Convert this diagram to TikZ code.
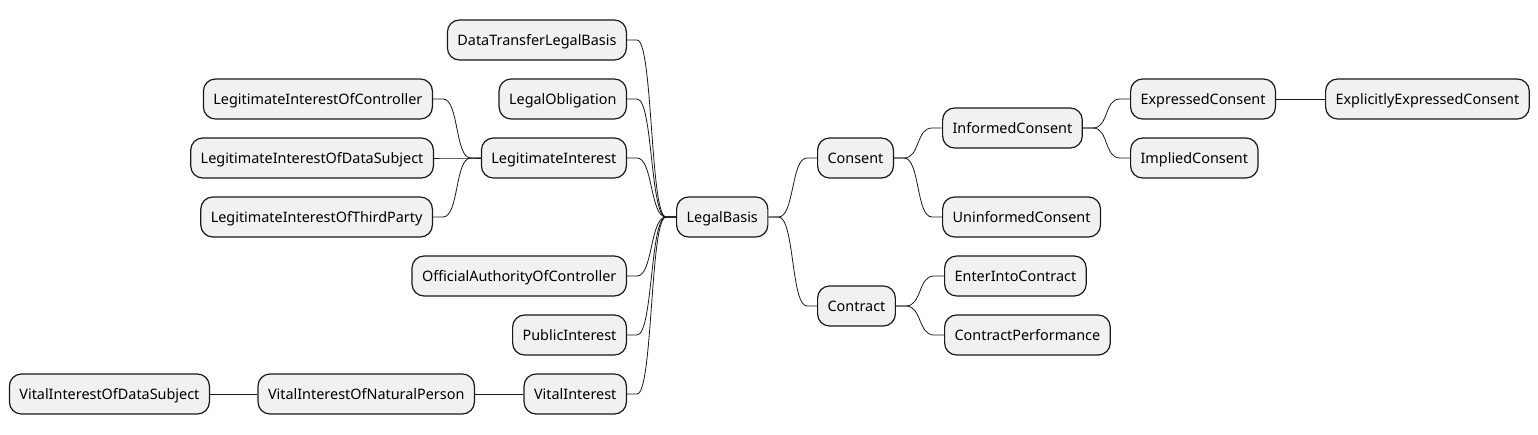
\documentclass[tikz,border=0pt]{standalone}
\usepackage{fontspec}
\setmainfont{Noto Sans}
\usetikzlibrary{positioning, calc}
\definecolor{boxfill}{HTML}{F1F1F1}
\definecolor{boxline}{HTML}{181818}

\begin{document}
\begin{tikzpicture}[
                x=1pt, y=-1pt,
                topic/.style={draw=boxline, fill=boxfill, line width=1.2pt, rounded corners=12pt,
                    minimum height=40pt, inner xsep=10pt, text height=12pt, text depth=1.5pt,
                    font=\fontsize{14.4}{16}\selectfont},
                branch/.style={draw=boxline, line width=0.8pt},
                rconn/.style={to path={-- ++(10,0) .. controls +(16,0) and +(-16,0) .. ($(\tikztotarget)+(-10,0)$) -- (\tikztotarget)}},
                lconn/.style={to path={-- ++(-10,0) .. controls +(-16,0) and +(16,0) .. ($(\tikztotarget)+(10,0)$) -- (\tikztotarget)}}
            ]
                \useasboundingbox (0,0) rectangle (1538,434);

                % Root node
                \node[topic, anchor=west] (legalbasis) at (676,217) {LegalBasis};

                % Right branch
                \node[topic, anchor=west] (consent) at (817,158) {Consent};
                \node[topic, anchor=west] (contract) at (817,306) {Contract};
                \node[topic, anchor=west] (informed) at (942,128) {InformedConsent};
                \node[topic, anchor=west] (uninformed) at (942,217) {UninformedConsent};
                \node[topic, anchor=west] (expressed) at (1130,99) {ExpressedConsent};
                \node[topic, anchor=west] (implied) at (1130,158) {ImpliedConsent};
                \node[topic, anchor=west] (explicit) at (1325,99) {ExplicitlyExpressedConsent};
                \node[topic, anchor=west] (enter) at (944,276) {EnterIntoContract};
                \node[topic, anchor=west] (performance) at (944,335) {ContractPerformance};

                % Left branch
                \node[topic, anchor=east] (transfer) at (627,40) {DataTransferLegalBasis};
                \node[topic, anchor=east] (obligation) at (627,99) {LegalObligation};
                \node[topic, anchor=east] (legint) at (627,158) {LegitimateInterest};
                \node[topic, anchor=east] (official) at (627,276) {OfficialAuthorityOfController};
                \node[topic, anchor=east] (public) at (627,335) {PublicInterest};
                \node[topic, anchor=east] (vital) at (627,394) {VitalInterest};
                \node[topic, anchor=east] (licontroller) at (433,99) {LegitimateInterestOfController};
                \node[topic, anchor=east] (lisubject) at (434,158) {LegitimateInterestOfDataSubject};
                \node[topic, anchor=east] (lithird) at (433,217) {LegitimateInterestOfThirdParty};
                \node[topic, anchor=east] (viperson) at (475,394) {VitalInterestOfNaturalPerson};
                \node[topic, anchor=east] (visubject) at (210,394) {VitalInterestOfDataSubject};

                % Connectors
                \foreach \child in {consent, contract}
                    \draw[branch] (legalbasis.east) to[rconn] (\child.west);
                \foreach \child in {informed, uninformed}
                    \draw[branch] (consent.east) to[rconn] (\child.west);
                \foreach \child in {expressed, implied}
                    \draw[branch] (informed.east) to[rconn] (\child.west);
                \foreach \child in {enter, performance}
                    \draw[branch] (contract.east) to[rconn] (\child.west);
                \draw[branch] (expressed.east) -- (explicit.west);

                \foreach \child in {transfer, obligation, legint, official, public, vital}
                    \draw[branch] (legalbasis.west) to[lconn] (\child.east);
                \foreach \child in {licontroller, lisubject, lithird}
                    \draw[branch] (legint.west) to[lconn] (\child.east);
                \draw[branch] (vital.west) -- (viperson.east);
                \draw[branch] (viperson.west) -- (visubject.east);
            \end{tikzpicture}
\end{document}
